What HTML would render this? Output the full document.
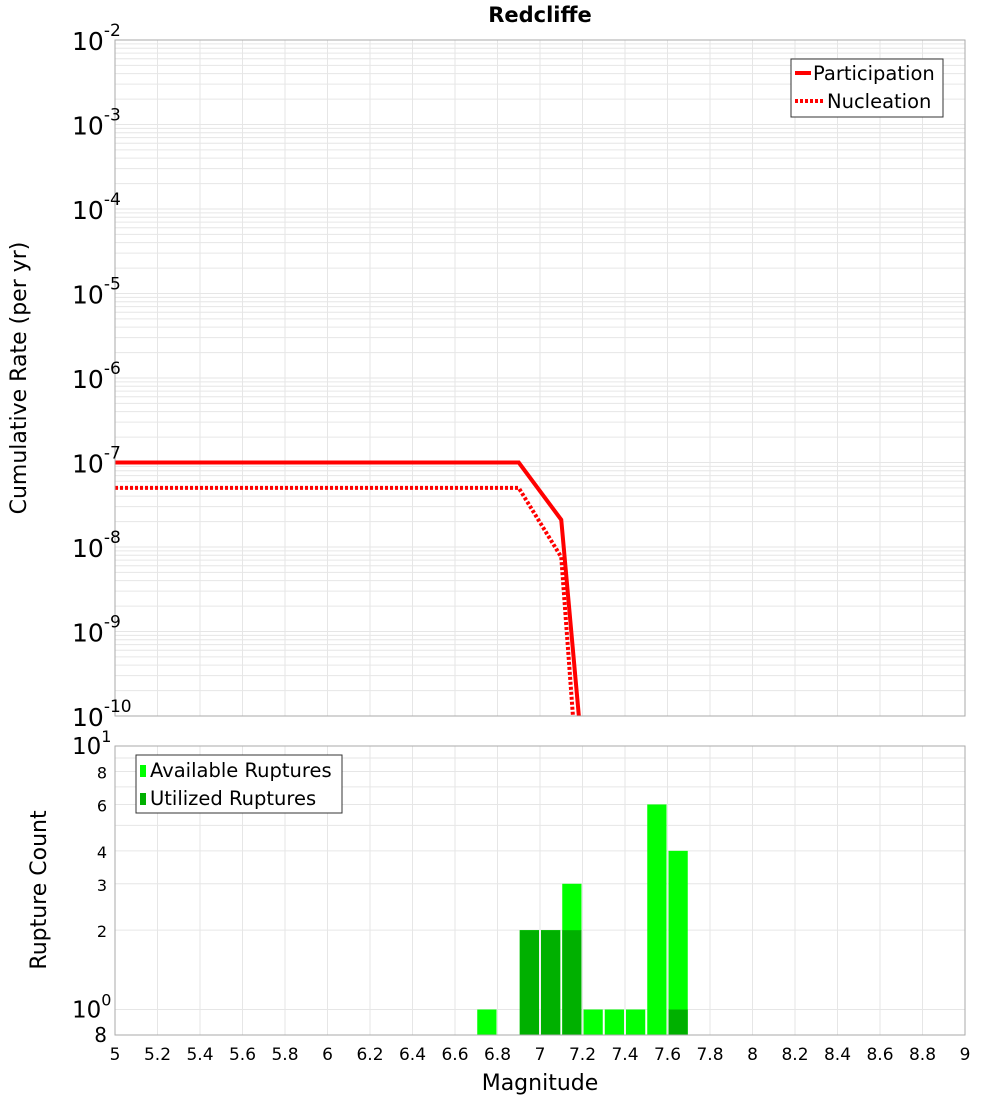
<!DOCTYPE html>
<html><head><meta charset="utf-8"><style>
body{margin:0;background:#fff;}
svg text{font-family:"DejaVu Sans","Liberation Sans",sans-serif;}
</style></head><body>
<svg id="c" width="1000" height="1100" xmlns="http://www.w3.org/2000/svg">
<defs>
<clipPath id="topclip"><rect x="115" y="40" width="850" height="676"/></clipPath>
</defs>
<text x="540" y="22" text-anchor="middle" font-size="21" font-weight="bold">Redcliffe</text>
<g id="gtop"></g>
<g id="gbot"></g>
<text transform="translate(26,378) rotate(-90)" text-anchor="middle" font-size="22">Cumulative Rate (per yr)</text>
<text transform="translate(46,890) rotate(-90)" text-anchor="middle" font-size="22">Rupture Count</text>
<text x="540" y="1090" text-anchor="middle" font-size="22">Magnitude</text>
<g>
<rect x="791" y="59" width="152" height="58" fill="#fff" stroke="#333" stroke-width="1"/>
<line x1="795" y1="73" x2="811" y2="73" stroke="#f00" stroke-width="4"/>
<text x="813" y="80" font-size="19.5">Participation</text>
<line x1="795" y1="101" x2="823" y2="101" stroke="#f00" stroke-width="4" stroke-dasharray="3,2"/>
<text x="827" y="108" font-size="19.5">Nucleation</text>
</g>
<g>
<rect x="136" y="755" width="206" height="58" fill="#fff" stroke="#333" stroke-width="1"/>
<rect x="140" y="765" width="6" height="12" fill="#00ff00"/>
<text x="150" y="777" font-size="19.5">Available Ruptures</text>
<rect x="140" y="793" width="6" height="12" fill="#00b000"/>
<text x="150" y="805" font-size="19.5">Utilized Ruptures</text>
</g>
</svg>
<script>
const partMags=[5,6.9,7.1,7.2];
const partRates=[1e-7,1e-7,2.1e-8,3.3e-11];
const nuclMags=[5,6.9,7.1,7.2];
const nuclRates=[5e-8,5e-8,7.6e-9,2.9e-12];
const binMags=[6.75,6.95,7.05,7.15,7.25,7.35,7.45,7.55,7.65];
const availCounts=[1,2,2,3,1,1,1,6,4];
const utilCounts=[0,2,2,2,0,0,0,0,1];
const xTicks=["5","5.2","5.4","5.6","5.8","6","6.2","6.4","6.6","6.8","7","7.2","7.4","7.6","7.8","8","8.2","8.4","8.6","8.8","9"];
const rateExps=[-2,-3,-4,-5,-6,-7,-8,-9,-10];
const countTicks=["8","10","2","3","4","6","8"];

const NS="http://www.w3.org/2000/svg";
const X=m=>115+(m-5)*212.5;
const YT=v=>40+(-2-Math.log10(v))*84.5;
const YB=v=>746+(1-Math.log10(v))*263.5;
function mk(tag,attrs,parent,txt){const e=document.createElementNS(NS,tag);for(const k in attrs)e.setAttribute(k,attrs[k]);if(txt!==undefined)e.textContent=txt;parent.appendChild(e);return e;}
const gTop=document.getElementById('gtop'),gBot=document.getElementById('gbot');
[[40,716,gTop],[746,1035,gBot]].forEach(([y0,y1,g])=>{
  xTicks.forEach(t=>{const x=X(+t);const l=mk('line',{x1:x,x2:x,y1:y0,y2:y1,stroke:'#e6e6e6','stroke-width':1},g);
  
  });
});
for(let d=-10;d<-2;d++){for(let k=1;k<10;k++){const y=YT(k*Math.pow(10,d));const l=mk('line',{x1:115,x2:965,y1:y,y2:y,stroke:'#e6e6e6','stroke-width':1},gTop);

}}
[0.8,1,2,3,4,5,6,7,8,9].forEach(v=>{const y=YB(v);const l=mk('line',{x1:115,x2:965,y1:y,y2:y,stroke:'#e6e6e6','stroke-width':1},gBot);

});
function path(ms,vs){return ms.map((m,i)=>(i?'L':'M')+X(m)+','+YT(vs[i])).join(' ');}
const p1=mk('path',{d:path(partMags,partRates),fill:'none',stroke:'#f00','stroke-width':4,'clip-path':'url(#topclip)'},gTop);


const p2=mk('path',{d:path(nuclMags,nuclRates),fill:'none',stroke:'#f00','stroke-width':4,'stroke-dasharray':'3,2','clip-path':'url(#topclip)'},gTop);


binMags.forEach((m,i)=>{
  const x0=X(m-0.05)+1,w=X(m+0.05)-X(m-0.05)-2;
  if(availCounts[i]>0){const y=YB(availCounts[i]);const r=mk('rect',{x:x0,y:y,width:w,height:1035-y,fill:'#00ff00'},gBot);
  
  }
  if(utilCounts[i]>0){const y=YB(utilCounts[i]);const r=mk('rect',{x:x0,y:y,width:w,height:1035-y,fill:'#00b000'},gBot);
  
  }
});
mk('rect',{x:115,y:40,width:850,height:676,fill:'none',stroke:'#aaa'},gTop);
mk('rect',{x:115,y:746,width:850,height:289,fill:'none',stroke:'#aaa'},gBot);
rateExps.forEach(e=>{const y=YT(Math.pow(10,e));const t=mk('text',{x:72,y:y+10,'font-size':25},gTop);


mk('tspan',{},t,'10');mk('tspan',{dy:-14,'font-size':17},t,String(e));});
const cvals=[0.8,1,2,3,4,6,8];
cvals.forEach((v,i)=>{const y=YB(v);let t;
 if(v===1){t=mk('text',{x:72,y:y+8,'font-size':23},gBot);mk('tspan',{},t,'10');mk('tspan',{dy:-12,'font-size':16},t,'0');}
 else{t=mk('text',{x:107,y:y+7,'text-anchor':'end','font-size':v===0.8?20:16},gBot,countTicks[i]);}
 
 });
{const t=mk('text',{x:72,y:YB(10)+8,'font-size':23},gBot);mk('tspan',{},t,'10');mk('tspan',{dy:-12,'font-size':16},t,'1');

}
xTicks.forEach(s=>{const t=mk('text',{x:X(+s),y:1060,'text-anchor':'middle','font-size':17},gBot,s);

});
</script>
</body></html>
